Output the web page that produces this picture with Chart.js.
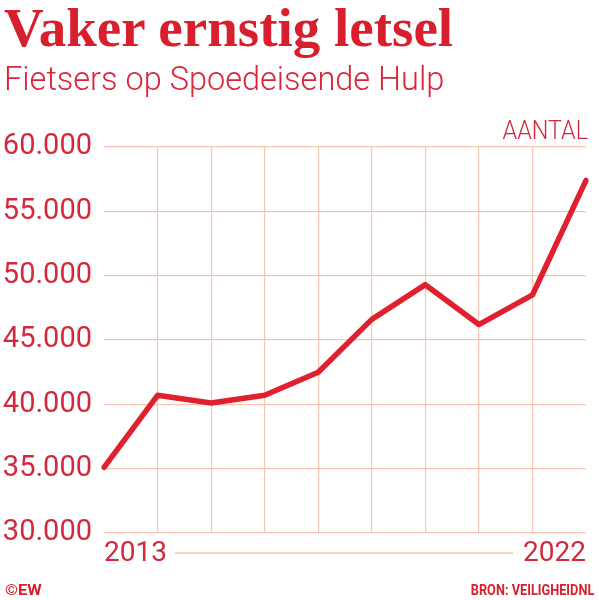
<!DOCTYPE html>
<html>
<head>
<meta charset="utf-8">
<script src="https://cdn.jsdelivr.net/npm/chart.js@4.4.0/dist/chart.umd.min.js"></script>
<style>
  html, body { margin: 0; padding: 0; background: #fff; }
  #wrap { position: relative; width: 599px; height: 600px; overflow: hidden; }
  #chart { position: absolute; left: 0; top: 0; }
  .txt { position: absolute; white-space: nowrap; line-height: 1; }
  #title { left: 4px; top: -4px; font: bold 55px "Liberation Serif", serif; color: #d71f2d; }
  #subtitle { left: 4px; top: 60px; font: 300 32.5px Roboto, sans-serif; color: #d9263a; }
  #unit { right: 11px; top: 115px; font: 300 26px Roboto, sans-serif; color: #d3293e;
          transform: scaleX(0.9); transform-origin: right top; }
  #copy { left: 5px; top: 581px; font: bold 15px Roboto, sans-serif; color: #d71f2d;
          transform: scaleX(1.1); transform-origin: left top; }
  #source { right: 5px; top: 581px; font: bold 15px Roboto, sans-serif; color: #d71f2d;
            transform: scaleX(0.85); transform-origin: right top; }
</style>
</head>
<body>
<div id="wrap">
  <canvas id="chart" width="599" height="600"></canvas>
  <div class="txt" id="title">Vaker ernstig letsel</div>
  <div class="txt" id="subtitle">Fietsers op Spoedeisende Hulp</div>
  <div class="txt" id="unit">AANTAL</div>
  <div class="txt" id="copy">©EW</div>
  <div class="txt" id="source">BRON: VEILIGHEIDNL</div>
</div>
<script>
// data
var years = ["2013", "2014", "2015", "2016", "2017", "2018", "2019", "2020", "2021", "2022"];
var injured = [35100, 40700, 40100, 40700, 42500, 46600, 49300, 46200, 48500, 57400];
var yMin = 30000;
var yMax = 60000;
var yStep = 5000;

var RED = "#e0202f";
var TEXT = "#d3293e";
var GRID = "#f5c5b5";

function dots(v) {
  return String(v).replace(/\B(?=(\d{3})+(?!\d))/g, ".");
}

// thin rule between first and last year label
var yearRule = {
  id: "yearRule",
  afterDraw: function (chart) {
    var x = chart.scales.x;
    var ctx = chart.ctx;
    ctx.save();
    ctx.font = "28px Roboto";
    var w1 = ctx.measureText(years[0]).width;
    var w2 = ctx.measureText(years[years.length - 1]).width;
    var y = x.top + 20;
    ctx.strokeStyle = GRID;
    ctx.lineWidth = 1.5;
    ctx.beginPath();
    ctx.moveTo(x.left + w1 + 8, y);
    ctx.lineTo(x.right - w2 - 10, y);
    ctx.stroke();
    ctx.restore();
  }
};

new Chart(document.getElementById("chart").getContext("2d"), {
  type: "line",
  data: {
    labels: years,
    datasets: [
      {
        data: injured,
        borderColor: RED,
        borderWidth: 5.5,
        borderCapStyle: "round",
        borderJoinStyle: "round",
        pointRadius: 0,
        tension: 0,
        fill: false
      }
    ]
  },
  options: {
    responsive: false,
    animation: false,
    layout: { padding: { top: 147, right: 13, bottom: 27, left: 0 } },
    plugins: {
      legend: { display: false },
      tooltip: { enabled: false }
    },
    scales: {
      x: {
        offset: false,
        border: { display: false },
        grid: {
          drawTicks: false,
          lineWidth: 1.2,
          color: function (c) {
            return c.index === 0 || c.index === years.length - 1 ? "transparent" : GRID;
          }
        },
        ticks: {
          autoSkip: false,
          maxRotation: 0,
          align: "inner",
          padding: 4,
          color: TEXT,
          font: { family: "Roboto", size: 28 },
          callback: function (v, i) {
            return i === 0 || i === years.length - 1 ? years[i] : "";
          }
        },
        afterFit: function (s) {
          s.height = 40;
          s.paddingLeft = 0;
          s.paddingRight = 0;
        }
      },
      y: {
        min: yMin,
        max: yMax,
        border: { display: false },
        grid: { drawTicks: false, color: GRID, lineWidth: 1.2 },
        ticks: {
          stepSize: yStep,
          padding: 12,
          color: TEXT,
          font: { family: "Roboto", size: 29 },
          callback: function (v) { return dots(v); }
        },
        afterFit: function (s) {
          s.width = 104;
        }
      }
    }
  },
  plugins: [yearRule]
});
</script>
</body>
</html>
